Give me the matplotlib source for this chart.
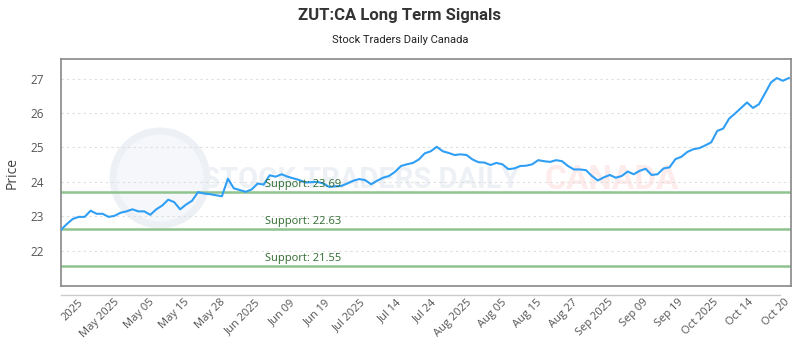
import numpy as np
import matplotlib
matplotlib.use("Agg")
import matplotlib.pyplot as plt
from matplotlib.patches import Circle

plt.rcParams['font.family'] = ['Open Sans', 'DejaVu Sans']

# closing prices (trading days, Apr -> Oct 2025)
price = [22.60, 22.77, 22.92, 22.98, 22.98, 23.16, 23.07, 23.07, 22.98, 23.01,
         23.10, 23.14, 23.20, 23.14, 23.14, 23.04, 23.20, 23.31, 23.48, 23.41,
         23.20, 23.34, 23.45, 23.70, 23.66, 23.64, 23.61, 23.58, 24.09, 23.81,
         23.76, 23.71, 23.78, 23.95, 23.92, 24.19, 24.15, 24.22, 24.15, 24.10,
         24.05, 23.98, 23.99, 24.00, 23.95, 23.85, 23.87, 23.88, 23.95, 24.03,
         24.08, 24.05, 23.93, 24.03, 24.12, 24.17, 24.29, 24.46, 24.51, 24.55,
         24.65, 24.83, 24.89, 25.02, 24.89, 24.84, 24.78, 24.80, 24.78, 24.65,
         24.57, 24.56, 24.49, 24.55, 24.51, 24.37, 24.39, 24.46, 24.47, 24.51,
         24.63, 24.60, 24.58, 24.63, 24.60, 24.46, 24.36, 24.36, 24.34, 24.17,
         24.04, 24.13, 24.20, 24.12, 24.17, 24.30, 24.22, 24.32, 24.38, 24.20,
         24.22, 24.39, 24.42, 24.66, 24.73, 24.87, 24.95, 24.98, 25.06, 25.15,
         25.48, 25.55, 25.84, 25.99, 26.15, 26.31, 26.15, 26.26, 26.57, 26.89,
         27.02, 26.94, 27.02]

tick_labels = ['2025', 'May 2025', 'May 05', 'May 15', 'May 28', 'Jun 2025',
               'Jun 09', 'Jun 19', 'Jul 2025', 'Jul 14', 'Jul 24', 'Aug 2025',
               'Aug 05', 'Aug 15', 'Aug 27', 'Sep 2025', 'Sep 09', 'Sep 19',
               'Oct 2025', 'Oct 14', 'Oct 20']

supports = [23.69, 22.63, 21.55]

n = len(price)
x = np.arange(n)

fig = plt.figure(figsize=(8, 3.5), dpi=100)
ax = fig.add_axes([0.076, 0.183, 0.913, 0.648])

# faint watermark behind the plot
wm = fig.add_axes([0, 0, 1, 1], zorder=0)
wm.set_xlim(0, 800)
wm.set_ylim(350, 0)
wm.axis('off')
wm.add_patch(Circle((160, 178), 47, facecolor='#f5f7fa', edgecolor='#edf1f6', lw=5))
wm.text(202, 180, 'STOCK TRADERS DAILY', fontsize=21, fontweight='bold',
        color='#edf1f6', va='center', ha='left', family=['Roboto', 'DejaVu Sans'])
wm.text(545, 180, 'CANADA', fontsize=24, fontweight='bold',
        color='#fdeceb', va='center', ha='left', family=['Roboto', 'DejaVu Sans'])
ax.set_zorder(1)
ax.patch.set_alpha(0)

ax.plot(x, price, color='#2f9ff5', lw=1.5, zorder=3)

for s in supports:
    ax.axhline(s, color='#8fc48f', lw=1.8, zorder=2)
    ax.text(n * 0.278, s + 0.07, 'Support: %.2f' % s, color='#2e6b2e',
            fontsize=8, va='bottom', ha='left', zorder=4)

ax.set_xlim(0, n - 1 + 0.4)
ax.set_ylim(20.97, 27.57)
ax.set_yticks([22, 23, 24, 25, 26, 27])
ax.set_xticks(np.linspace(0.024, 0.993, len(tick_labels)) * (n - 1))
ax.set_xticklabels(tick_labels, rotation=45, ha='right', rotation_mode='anchor')
ax.tick_params(axis='x', length=0, pad=8, labelsize=8, colors='#555555')
ax.tick_params(axis='y', length=0, pad=12, labelsize=8.5, colors='#555555')
ax.grid(axis='y', color='#dddddd', ls=(0, (2, 3)), lw=0.8)
for sp in ax.spines.values():
    sp.set_color('#888888')
    sp.set_linewidth(1.2)
ax.set_ylabel('Price', fontsize=10, color='#444444', labelpad=8)

# offset x axis line below the frame
ax.plot([0, 0.985], [-0.04, -0.04], transform=ax.transAxes, clip_on=False,
        color='#cccccc', lw=1)

fig.text(0.5, 0.955, 'ZUT:CA Long Term Signals', ha='center', va='center',
         fontsize=12, fontweight='bold', color='#333333', family=['Roboto', 'DejaVu Sans'])
fig.text(0.5, 0.885, 'Stock Traders Daily Canada', ha='center', va='center',
         fontsize=8, color='#222222', family=['Roboto', 'DejaVu Sans'])

fig.savefig('out.png', dpi=100)
